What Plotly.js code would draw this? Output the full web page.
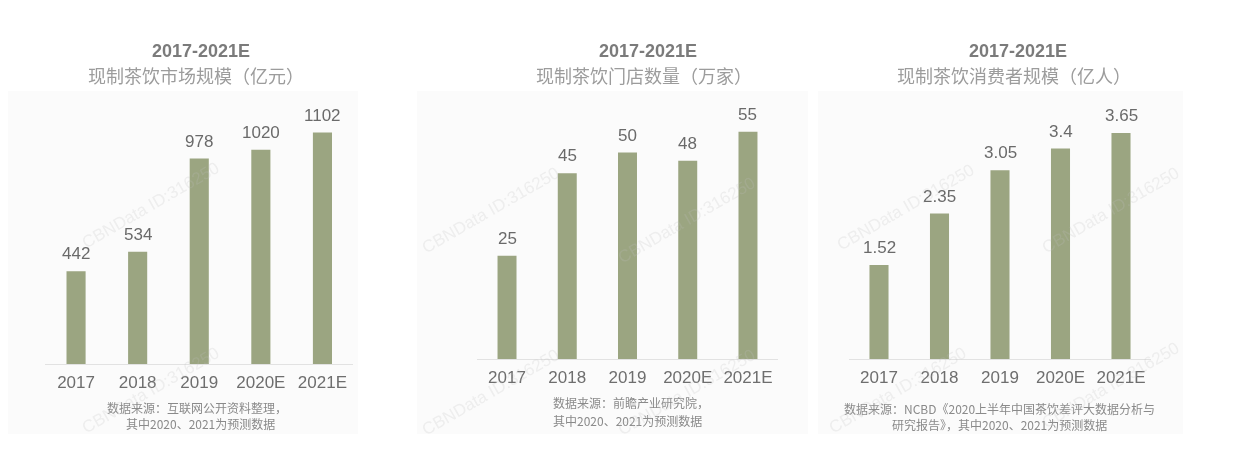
<!DOCTYPE html>
<html>
<head>
<meta charset="utf-8">
<script src="https://cdn.plot.ly/plotly-3.0.1.min.js"></script>
<style>
  html, body { margin: 0; padding: 0; background: #ffffff; }
  #chart { width: 1240px; height: 465px; filter: blur(0.4px); }
</style>
</head>
<body>
<div id="chart"></div>
<script>
// ---- data ----
const years = ['2017', '2018', '2019', '2020E', '2021E'];
const marketSize = [442, 534, 978, 1020, 1102];      // 亿元
const storeCount = [25, 45, 50, 48, 55];             // 万家
const consumers = [1.52, 2.35, 3.05, 3.4, 3.65];     // 亿人

const titleTop = '2017-2021E';
const titles = ['现制茶饮市场规模（亿元）', '现制茶饮门店数量（万家）', '现制茶饮消费者规模（亿人）'];
const sources1 = ['数据来源：互联网公开资料整理，', '其中2020、2021为预测数据'];
const sources2 = ['数据来源：前瞻产业研究院，', '其中2020、2021为预测数据'];
const sources3 = ['数据来源：NCBD《2020上半年中国茶饮差评大数据分析与', '研究报告》，其中2020、2021为预测数据'];
const watermark = 'CBNData ID:316250';

// ---- styling ----
const W = 1240, H = 465;
const px = v => v / W;
const py = v => 1 - v / H;
const barColor = '#9ba581';
const numFont = 'Helvetica, "Liberation Sans", Arial, sans-serif';
const cjkFont = '"Noto Sans CJK SC", "Noto Sans", sans-serif';

const series = [marketSize, storeCount, consumers];
const axisIds = ['', '2', '3'];
const barWidths = [0.31, 0.315, 0.315];

const traces = series.map((vals, i) => ({
  type: 'bar',
  x: years,
  y: vals,
  xaxis: 'x' + axisIds[i],
  yaxis: 'y' + axisIds[i],
  width: barWidths[i],
  marker: { color: barColor, line: { width: 0 } },
  hoverinfo: 'x+y',
  showlegend: false
}));

const annotations = [];
// value labels (x given as category index so numeric-looking years are not misread)
series.forEach((vals, i) => {
  vals.forEach((v, j) => {
    annotations.push({
      x: years.indexOf(years[j]), y: v, xref: 'x' + axisIds[i], yref: 'y' + axisIds[i],
      text: String(v), showarrow: false, yanchor: 'bottom', yshift: 6,
      font: { family: numFont, size: 17, color: '#6a6a6a' }
    });
  });
});

// panel titles
const titleCenters = [[201, 196], [648, 644], [1018, 1014]];
titles.forEach((t, i) => {
  annotations.push({
    x: px(titleCenters[i][0]), y: py(51), xref: 'paper', yref: 'paper',
    text: '<b>' + titleTop + '</b>', showarrow: false, xanchor: 'center', yanchor: 'middle',
    font: { family: numFont, size: 18, color: '#7b7b7b' }
  });
  annotations.push({
    x: px(titleCenters[i][1]), y: py(75), xref: 'paper', yref: 'paper',
    text: t, showarrow: false, xanchor: 'center', yanchor: 'middle',
    font: { family: cjkFont, size: 18, color: '#9c9c9c' }
  });
});

// sources
const srcFont = { family: cjkFont, size: 12, color: '#8a8a8a' };
annotations.push({ x: px(197), y: py(407), xref: 'paper', yref: 'paper', text: sources1[0], showarrow: false, xanchor: 'center', yanchor: 'middle', font: srcFont });
annotations.push({ x: px(200), y: py(423), xref: 'paper', yref: 'paper', text: sources1[1], showarrow: false, xanchor: 'center', yanchor: 'middle', font: srcFont });
annotations.push({ x: px(551), y: py(402), xref: 'paper', yref: 'paper', text: sources2[0], showarrow: false, xanchor: 'left', yanchor: 'middle', font: srcFont });
annotations.push({ x: px(551), y: py(420), xref: 'paper', yref: 'paper', text: sources2[1], showarrow: false, xanchor: 'left', yanchor: 'middle', font: srcFont });
annotations.push({ x: px(1000), y: py(408), xref: 'paper', yref: 'paper', text: sources3[0], showarrow: false, xanchor: 'center', yanchor: 'middle', font: srcFont });
annotations.push({ x: px(1000), y: py(424), xref: 'paper', yref: 'paper', text: sources3[1], showarrow: false, xanchor: 'center', yanchor: 'middle', font: srcFont });

// faint watermarks
const wmPos = [[150, 205], [150, 390], [490, 210], [686, 220], [490, 392], [686, 392], [905, 207], [1110, 210], [897, 390], [1110, 385]];
wmPos.forEach(p => {
  annotations.push({
    x: px(p[0]), y: py(p[1]), xref: 'paper', yref: 'paper', text: watermark,
    showarrow: false, textangle: -30, xanchor: 'center', yanchor: 'middle',
    font: { family: numFont, size: 17, color: 'rgba(190,190,190,0.22)' }
  });
});

// panel backgrounds
const panels = [[8, 358], [417, 808], [818, 1183]];
const shapes = panels.map(p => ({
  type: 'rect', xref: 'paper', yref: 'paper', layer: 'below',
  x0: px(p[0]), x1: px(p[1]), y0: py(434), y1: py(91),
  fillcolor: '#fbfbfb', line: { width: 0 }
}));

function xAxis(d0, d1, anchor) {
  return {
    domain: [px(d0), px(d1)], anchor: anchor, type: 'category', range: [-0.5, 4.5],
    showline: true, linecolor: '#e2e2e2', linewidth: 1, showgrid: false, zeroline: false,
    ticks: '', ticklabelstandoff: 3,
    tickfont: { family: numFont, size: 17, color: '#6e6e6e' }, fixedrange: true
  };
}
function yAxis(bottom, top, maxv, anchor) {
  return {
    domain: [py(bottom), py(top)], anchor: anchor, range: [0, maxv], visible: false,
    showgrid: false, zeroline: false, fixedrange: true
  };
}

const layout = {
  width: W, height: H,
  margin: { l: 0, r: 0, t: 0, b: 0 },
  paper_bgcolor: '#ffffff', plot_bgcolor: 'rgba(0,0,0,0)',
  showlegend: false,
  xaxis: xAxis(45.25, 353.25, 'y'),
  yaxis: yAxis(364, 92, 272 / 0.21, 'x'),
  xaxis2: xAxis(476.9, 778.1, 'y2'),
  yaxis2: yAxis(359, 92, 267 / 4.13, 'x2'),
  xaxis3: xAxis(848.75, 1151.25, 'y3'),
  yaxis3: yAxis(359, 92, 267 / 61.9, 'x3'),
  shapes: shapes,
  annotations: annotations
};

Plotly.newPlot('chart', traces, layout, { displayModeBar: false, staticPlot: true });
</script>
</body>
</html>
